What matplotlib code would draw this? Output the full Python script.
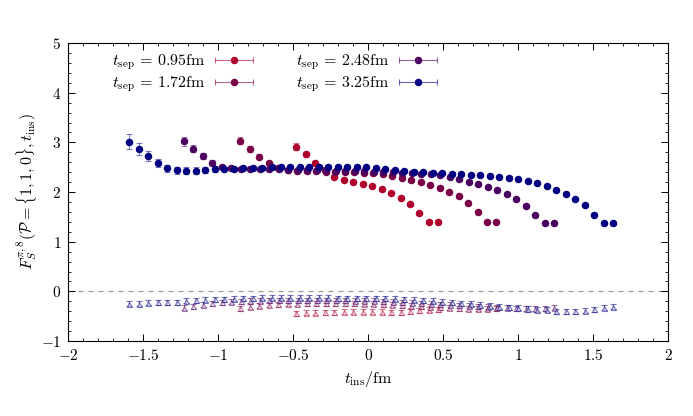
import numpy as np
import matplotlib
matplotlib.use("Agg")
import matplotlib.pyplot as plt
from matplotlib.legend_handler import HandlerErrorbar
from matplotlib.ticker import MultipleLocator, FuncFormatter

plt.rcParams['font.family'] = 'serif'
plt.rcParams['font.serif'] = ['cmr10']
plt.rcParams['mathtext.fontset'] = 'cm'
plt.rcParams['axes.formatter.use_mathtext'] = True

labels = ["0.95", "1.72", "2.48", "3.25"]
colors = ["#b0002c", "#7a0046", "#4a0060", "#000080"]
spacing = 0.0633
x_start = [-0.480, -0.853, -1.227, -1.593]

up_095 = [2.91, 2.76, 2.59, 2.44, 2.31, 2.25, 2.21, 2.17, 2.12, 2.06, 1.99, 1.89, 1.75, 1.57, 1.40, 1.40]
up_172 = [3.03, 2.87, 2.71, 2.58, 2.49, 2.44, 2.43, 2.42, 2.42, 2.41, 2.41, 2.40, 2.40, 2.39,
          2.38, 2.36, 2.33, 2.29, 2.24, 2.20, 2.15, 2.09, 2.01, 1.92, 1.77, 1.59, 1.40, 1.40]
up_248 = [3.02, 2.87, 2.73, 2.59, 2.51, 2.48, 2.47, 2.47, 2.46, 2.46, 2.46, 2.45, 2.45, 2.45,
          2.44, 2.44, 2.43, 2.43, 2.42, 2.42, 2.41, 2.41, 2.40, 2.39, 2.38, 2.37, 2.36, 2.34,
          2.30, 2.26, 2.21, 2.16, 2.10, 2.04, 1.96, 1.86, 1.72, 1.53, 1.37, 1.37]
up_325 = [3.01, 2.87, 2.73, 2.58, 2.48, 2.44, 2.43, 2.43, 2.44, 2.46, 2.47, 2.47, 2.48, 2.48,
          2.49, 2.50, 2.51, 2.51, 2.51, 2.51, 2.51, 2.51, 2.51, 2.51, 2.51, 2.50, 2.48, 2.46,
          2.44, 2.43, 2.41, 2.40, 2.39, 2.38, 2.37, 2.36, 2.35, 2.34, 2.33, 2.31, 2.29, 2.26,
          2.22, 2.18, 2.12, 2.04, 1.97, 1.86, 1.73, 1.54, 1.37, 1.37]
up_err_head = [[0.07, 0.05, 0.04, 0.03],
               [0.07, 0.06, 0.05, 0.04],
               [0.09, 0.07, 0.06, 0.05],
               [0.15, 0.12, 0.10, 0.08, 0.07, 0.07, 0.07, 0.07, 0.06, 0.06]]
up_err_rest = 0.03

lo_095 = [-0.44, -0.43, -0.43, -0.42, -0.42, -0.41, -0.41, -0.41, -0.41, -0.41, -0.42, -0.42,
          -0.40, -0.38, -0.37, -0.36]
lo_172 = [-0.34, -0.31, -0.285, -0.27, -0.26, -0.25, -0.25, -0.24, -0.24, -0.24, -0.24, -0.24,
          -0.24, -0.25, -0.25, -0.26, -0.27, -0.28, -0.29, -0.30, -0.31, -0.32, -0.33, -0.34,
          -0.35, -0.35, -0.35, -0.34]
lo_248 = [-0.33, -0.30, -0.27, -0.24, -0.22, -0.21, -0.20, -0.19, -0.19, -0.18, -0.18, -0.18,
          -0.18, -0.18, -0.18, -0.18, -0.18, -0.18, -0.19, -0.19, -0.19, -0.20, -0.21, -0.22,
          -0.23, -0.24, -0.25, -0.26, -0.27, -0.28, -0.29, -0.30, -0.31, -0.32, -0.33, -0.34,
          -0.35, -0.35, -0.34, -0.33]
lo_325 = [-0.25, -0.25, -0.23, -0.22, -0.22, -0.22, -0.19, -0.18, -0.17, -0.16, -0.155, -0.15,
          -0.14, -0.14, -0.13, -0.13, -0.13, -0.13, -0.13, -0.13, -0.13, -0.13, -0.14, -0.14,
          -0.14, -0.14, -0.14, -0.14, -0.15, -0.155, -0.17, -0.18, -0.19, -0.205, -0.22, -0.24,
          -0.25, -0.265, -0.285, -0.305, -0.32, -0.33, -0.35, -0.365, -0.37, -0.40, -0.40, -0.40,
          -0.39, -0.36, -0.33, -0.31]
lo_err = 0.05

ups = [up_095, up_172, up_248, up_325]
los = [lo_095, lo_172, lo_248, lo_325]

fig = plt.figure(figsize=(6.93, 4.16), dpi=100)
ax = fig.add_axes([0.0981, 0.180, 0.866, 0.7166])

handles = []
for i in range(4):
    n = len(ups[i])
    x = x_start[i] + spacing * np.arange(n)
    err = np.full(n, up_err_rest)
    head = up_err_head[i]
    err[:len(head)] = head
    c = colors[i]
    ax.errorbar(x, los[i], yerr=lo_err, fmt='^', ms=3.6, mfc='white', mec=c, mew=0.8,
                ecolor=c, elinewidth=0.7, capsize=2, capthick=0.7, alpha=0.55, zorder=2)
    ax.errorbar(x, ups[i], yerr=err, fmt='o', ms=4.4, color=c, mec=c,
                ecolor=matplotlib.colors.to_rgba(c, 0.5), elinewidth=0.8, capsize=2.5,
                capthick=0.8, zorder=3 + i)
    h = ax.errorbar([np.nan], [np.nan], xerr=[[0.1], [0.1]], fmt='o', ms=4.4, color=c,
                    ecolor=matplotlib.colors.to_rgba(c, 0.6), elinewidth=0.8, capsize=2.5,
                    capthick=0.8, label=r'$t_{\rm sep}\,=\,%s\mathrm{fm}$' % labels[i])
    handles.append(h)

ax.axhline(0, color='#999999', lw=0.9, ls=(0, (4, 4)), zorder=1)

ax.set_xlim(-2, 2)
ax.set_ylim(-1, 5)
fmt = FuncFormatter(lambda v, p: r'$%s$' % ('%g' % v))
ax.xaxis.set_major_formatter(fmt)
ax.yaxis.set_major_formatter(fmt)
ax.xaxis.set_major_locator(MultipleLocator(0.5))
ax.xaxis.set_minor_locator(MultipleLocator(0.1))
ax.yaxis.set_major_locator(MultipleLocator(1))
ax.yaxis.set_minor_locator(MultipleLocator(0.2))
ax.tick_params(which='both', direction='in', top=True, right=True, labelsize=11)
ax.tick_params(which='major', length=5, width=0.7, pad=5)
ax.tick_params(which='minor', length=2.5, width=0.6)
for s in ax.spines.values():
    s.set_linewidth(0.8)

ax.set_xlabel(r'$t_{\rm ins}/\mathrm{fm}$', fontsize=11.5)
ax.set_ylabel(r'$F_S^{\pi,8}(\mathcal{P}=\{1,1,0\},t_{\rm ins})$', fontsize=11.5, labelpad=1)

leg = ax.legend(handles=handles, loc='upper left', ncol=2, frameon=False, markerfirst=False,
                fontsize=11.5, handlelength=2.6, handletextpad=0.5, columnspacing=2.6,
                borderaxespad=0.2, labelspacing=0.15,
                handler_map={type(handles[0]): HandlerErrorbar(xerr_size=1.2)},
                bbox_to_anchor=(0.057, 1.0))

fig.savefig('out.png', dpi=100)
